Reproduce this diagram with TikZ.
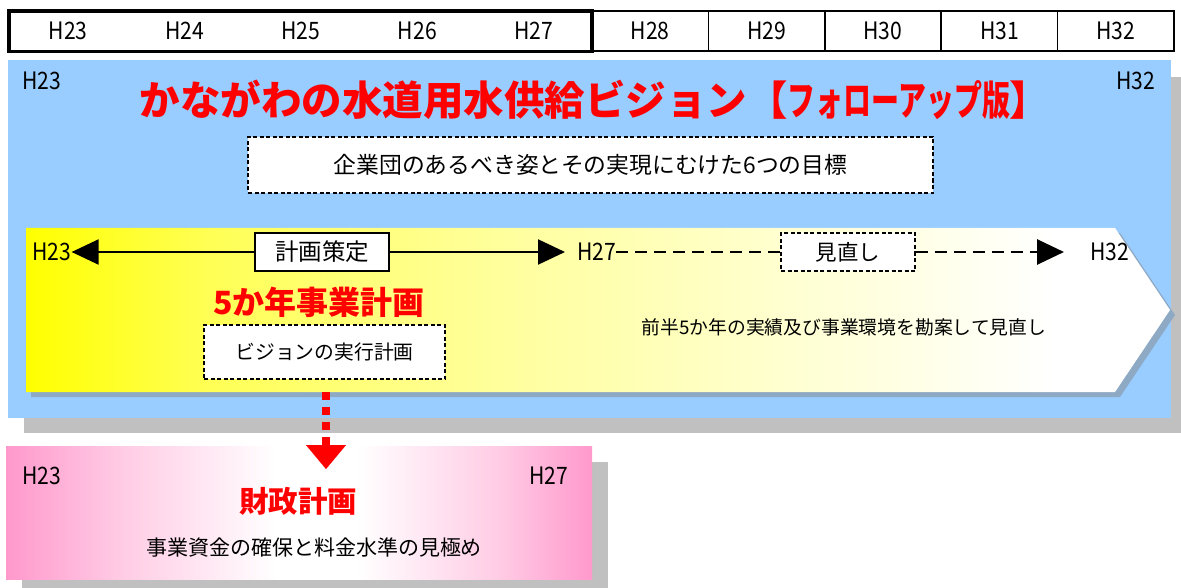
\documentclass[tikz,border=0pt]{standalone}
\usepackage{fontspec}
\usepackage{graphicx}
\setmainfont{Noto Sans CJK JP}
\usetikzlibrary{arrows.meta}
\definecolor{skyblue}{HTML}{99CCFF}
\definecolor{shadowgray}{HTML}{C0C0C0}
\definecolor{arrowshadow}{HTML}{8DA9C4}
\definecolor{planpink}{HTML}{FF99CC}
\definecolor{titlered}{HTML}{FF0000}
\definecolor{yA}{HTML}{FFFF00}
\definecolor{yB}{HTML}{FFFF55}
\definecolor{yC}{HTML}{FFFF99}
\definecolor{yD}{HTML}{FFFFD0}
\definecolor{pA}{HTML}{FFCCE5}
\pgfdeclarehorizontalshading{visionshade}{100bp}{color(0bp)=(yA); color(25bp)=(yA); color(33bp)=(yB); color(45bp)=(yC); color(58bp)=(yD); color(70bp)=(white); color(100bp)=(white)}
\pgfdeclarehorizontalshading{financeshade}{100bp}{color(0bp)=(planpink); color(25bp)=(planpink); color(35bp)=(pA); color(48bp)=(white); color(55bp)=(white); color(67bp)=(pA); color(75bp)=(planpink); color(100bp)=(planpink)}
\newcommand\yl[1]{\scalebox{0.88}[1]{#1}}
\begin{document}
\begin{tikzpicture}[x=1pt,y=-1pt,
  yearlbl/.style={font=\fontsize{24}{26}\selectfont, inner sep=0pt, text=black},
  dashbox/.style={draw=black, fill=white, dash pattern=on 4pt off 2.5pt, line width=1.2pt, inner sep=0pt},
  solidbox/.style={draw=black, fill=white, line width=1.3pt, inner sep=0pt},
  bigred/.style={text=titlered, font=\bfseries\fontsize{32}{36}\selectfont, inner sep=0pt},
  bodytxt/.style={inner sep=0pt, text=black},
  tlarrow/.style={line width=2.2pt, -{Triangle[length=27pt,width=25pt]}},
  dashline/.style={line width=2.8pt, dash pattern=on 12pt off 7pt},
]
\useasboundingbox (0,0) rectangle (1181,588);
\clip (0,0) rectangle (1181,588);
\fill[white] (0,0) rectangle (1181,588);
% year bar
\draw[line width=1.5pt] (592,11) rectangle (1174,51);
\foreach \xx in {708.4,824.8,941.2,1057.6} \draw[line width=1.5pt] (\xx,11) -- (\xx,51);
\draw[line width=3.5pt] (9,11) rectangle (592,51.5);
\foreach \i/\lbl in {0/H23,1/H24,2/H25,3/H26,4/H27,5/H28,6/H29,7/H30,8/H31,9/H32}
  \node[yearlbl] (yr\i) at ({68.2+116.4*\i},31) {\yl{\lbl}};
% vision panel
\fill[shadowgray] (24,77) rectangle (1190,433);
\fill[skyblue] (8,60) rectangle (1171,418);
\node[yearlbl] (vH23) at (42,81) {\yl{H23}};
\node[yearlbl] (vH32) at (1136,81) {\yl{H32}};
\node[text=titlered, font=\bfseries\fontsize{40.5}{44}\selectfont, inner sep=0pt] (title) at (595,100)
  {かながわの水道用水供給ビジョン【\scalebox{0.69}[1]{フォローアップ版}】};
\node[dashbox, minimum width=685pt, minimum height=56pt, font=\fontsize{22.8}{26}\selectfont] (goals) at (590.5,165)
  {企業団のあるべき姿とその実現にむけた6つの目標};
% plan arrow
\fill[arrowshadow] (31,233) -- (1120,233) -- (1175,315) -- (1120,397) -- (31,397) -- cycle;
\shade[shading=visionshade] (26,228) -- (1115,228) -- (1170,310) -- (1115,392) -- (26,392) -- cycle;
\node[yearlbl] (aH23) at (52,252) {\yl{H23}};
\node[solidbox, minimum width=134pt, minimum height=38pt, font=\fontsize{23.5}{26}\selectfont] (plan) at (322,252) {計画策定};
\node[yearlbl, anchor=west] (aH27) at (577,252) {\yl{H27}};
\node[dashbox, minimum width=134pt, minimum height=38pt, font=\fontsize{21.5}{24}\selectfont] (review) at (848,252) {見直し};
\node[yearlbl, anchor=west] (aH32) at (1090,252) {\yl{H32}};
\draw[tlarrow] (plan.west) -- (aH23.east);
\draw[tlarrow, shorten >=12pt] (plan.east) -- (aH27.west);
\draw[dashline] (aH27.east) -- (review.west);
\draw[dashline, -{Triangle[length=27pt,width=25pt]}, shorten >=26pt] (review.east) -- (aH32.west);
\node[bigred] (fiveyr) at (319,302) {5か年事業計画};
\node[dashbox, minimum width=241pt, minimum height=54pt, font=\fontsize{19.8}{23}\selectfont] (exec) at (324.5,352) {ビジョンの実行計画};
\node[bodytxt, font=\fontsize{18.8}{22}\selectfont] (reviewtxt) at (844,327) {前半5か年の実績及び事業環境を勘案して見直し};
% finance panel
\fill[shadowgray] (22,462) rectangle (608,600);
\node[shade, shading=financeshade, minimum width=586pt, minimum height=133pt, inner sep=0pt] (finance) at (299,512.5) {};
\node[yearlbl] (fH23) at (42,476) {\yl{H23}};
\node[yearlbl] (fH27) at (549,476) {\yl{H27}};
\node[bigred, font=\bfseries\fontsize{29.5}{32}\selectfont] (fintitle) at (298,501) {財政計画};
\node[bodytxt, font=\fontsize{21}{24}\selectfont] (fintxt) at (314,547) {事業資金の確保と料金水準の見極め};
% red dotted connector
\coordinate (dotstart) at (326,392);
\coordinate (dotend) at (326,469);
\draw[titlered, line width=8pt, dash pattern=on 8pt off 7pt, -{Triangle[length=24pt,width=40pt,line width=0.1pt]}] (dotstart) -- (dotend);
\end{tikzpicture}
\end{document}
